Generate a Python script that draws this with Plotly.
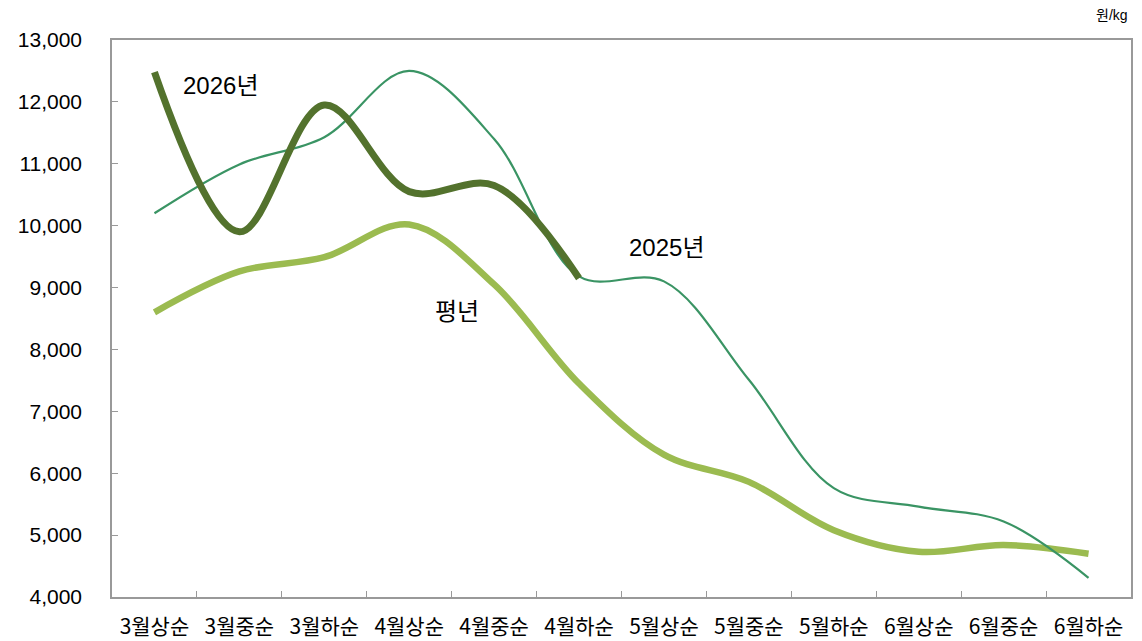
import plotly.graph_objects as go

categories = ["3월상순", "3월중순", "3월하순", "4월상순", "4월중순", "4월하순",
              "5월상순", "5월중순", "5월하순", "6월상순", "6월중순", "6월하순"]
y2026 = [12480, 9900, 11950, 10550, 10650, 9150]
y2025 = [10200, 10990, 11430, 12500, 11400, 9180, 9100, 7510, 5760, 5460, 5220, 4310]
y_normal = [8600, 9260, 9490, 10020, 9050, 7450, 6300, 5860, 5080, 4730, 4840, 4700]
ytick_vals = list(range(4000, 13001, 1000))
ytick_text = [f"{v:,}" for v in ytick_vals]

FONT = "Liberation Sans, Noto Sans CJK KR, sans-serif"

fig = go.Figure()
fig.add_trace(go.Scatter(x=categories, y=y_normal, mode="lines", name="평년",
                         line=dict(color="#9bbb50", width=6.5, shape="spline")))
fig.add_trace(go.Scatter(x=categories, y=y2025, mode="lines", name="2025년",
                         line=dict(color="#3a9464", width=2.2, shape="spline")))
fig.add_trace(go.Scatter(x=categories[:len(y2026)], y=y2026, mode="lines", name="2026년",
                         line=dict(color="#53722d", width=7, shape="spline")))

fig.update_layout(
    width=1134, height=633,
    margin=dict(l=104, r=11, t=32, b=44),
    paper_bgcolor="white", plot_bgcolor="white",
    showlegend=False,
    font=dict(family=FONT, color="#000000", size=20),
    xaxis=dict(type="category", categoryorder="array", categoryarray=categories,
               range=[-0.5, 11.5], tickson="boundaries", ticks="inside", ticklen=6,
               tickcolor="#999999", showline=True, linecolor="#999999", linewidth=1.5,
               mirror=True, showgrid=False, zeroline=False, ticklabelstandoff=10,
               automargin=False,
               tickfont=dict(family="Noto Sans CJK KR, sans-serif", size=21)),
    yaxis=dict(range=[4000, 13000], tickvals=ytick_vals, ticktext=ytick_text,
               ticks="inside", ticklen=6, tickcolor="#999999", showline=True,
               linecolor="#999999", linewidth=1.5, mirror=True, showgrid=False,
               zeroline=False, ticklabelstandoff=24, automargin=False,
               tickfont=dict(family=FONT, size=21)),
    annotations=[
        dict(text="2026년", xref="paper", yref="paper", x=0.106, y=0.919, showarrow=False,
             xanchor="center", yanchor="middle", font=dict(size=24, family=FONT)),
        dict(text="2025년", xref="paper", yref="paper", x=0.544, y=0.627, showarrow=False,
             xanchor="center", yanchor="middle", font=dict(size=24, family=FONT)),
        dict(text="평년", xref="paper", yref="paper", x=0.339, y=0.512, showarrow=False,
             xanchor="center", yanchor="middle", font=dict(size=24, family=FONT)),
        dict(text="원/kg", xref="paper", yref="paper", x=0.981, y=1.045, showarrow=False,
             xanchor="center", yanchor="middle", font=dict(size=14, family=FONT)),
    ],
)
fig.write_html("out.html")
